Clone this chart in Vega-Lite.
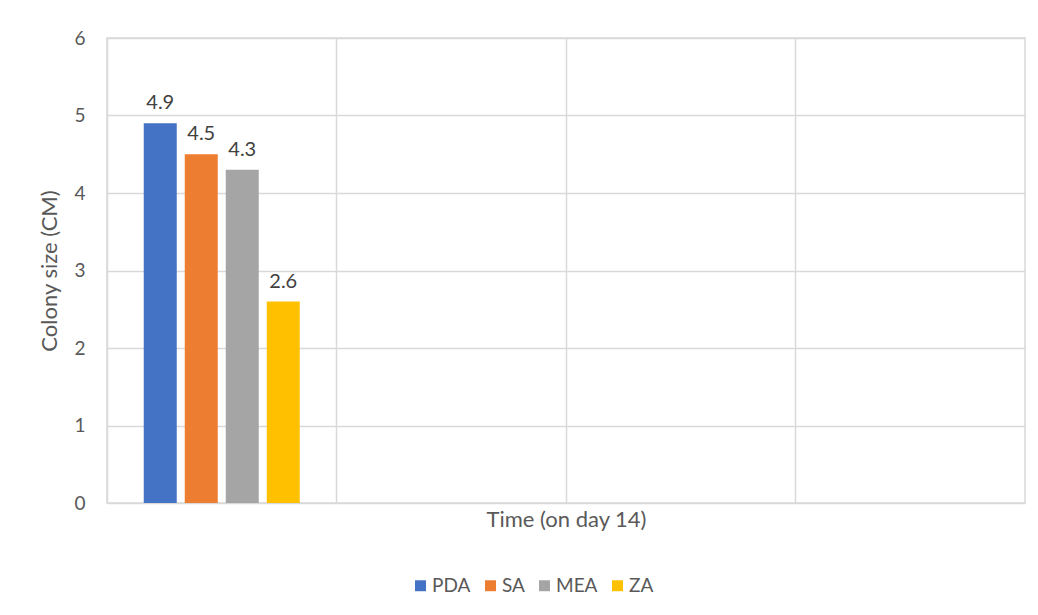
{
  "$schema": "https://vega.github.io/schema/vega-lite/v6.json",
  "width": 918,
  "height": 465,
  "autosize": {"type": "none"},
  "padding": {"left": 107, "top": 38, "right": 13, "bottom": 112},
  "background": "white",
  "config": {
    "font": "Lato",
    "view": {"stroke": "#d9d9d9", "strokeWidth": 1.5},
    "axis": {"labelColor": "#595959", "titleColor": "#595959", "gridColor": "#d9d9d9", "gridWidth": 1.5}
  },
  "data": {
    "values": [
      {"time": "Day 14", "medium": "PDA", "size": 4.9},
      {"time": "Day 14", "medium": "SA", "size": 4.5},
      {"time": "Day 14", "medium": "MEA", "size": 4.3},
      {"time": "Day 14", "medium": "ZA", "size": 2.6}
    ]
  },
  "encoding": {
    "x": {
      "field": "time",
      "type": "nominal",
      "scale": {"domain": ["Day 14", "b", "c", "d"], "paddingInner": 0, "paddingOuter": 0},
      "axis": {
        "title": "Time (on day 14)",
        "titleFontSize": 22,
        "titleFontWeight": "normal",
        "titlePadding": 6,
        "labels": false,
        "ticks": false,
        "domain": false,
        "grid": true,
        "bandPosition": 0
      }
    },
    "xOffset": {
      "field": "medium",
      "type": "nominal",
      "scale": {"domain": ["PDA", "SA", "MEA", "ZA"], "paddingInner": 0.195, "paddingOuter": 0.896}
    },
    "y": {
      "field": "size",
      "type": "quantitative",
      "scale": {"domain": [0, 6]},
      "axis": {
        "title": "Colony size (CM)",
        "titleFontSize": 22,
        "titleFontWeight": "normal",
        "titlePadding": 12,
        "labelFontSize": 19,
        "labelPadding": 22,
        "tickCount": 6,
        "ticks": false,
        "domain": false
      }
    }
  },
  "layer": [
    {
      "mark": {"type": "bar"},
      "encoding": {
        "color": {
          "field": "medium",
          "type": "nominal",
          "scale": {"domain": ["PDA", "SA", "MEA", "ZA"], "range": ["#4472C4", "#ED7D31", "#A5A5A5", "#FFC000"]},
          "legend": {
            "title": null,
            "orient": "none",
            "direction": "horizontal",
            "legendX": 304,
            "legendY": 538,
            "symbolType": "square",
            "symbolSize": 120,
            "symbolStrokeWidth": 0,
            "labelFontSize": 19,
            "labelColor": "#595959",
            "labelOffset": 2,
            "columnPadding": 10
          }
        }
      }
    },
    {
      "mark": {"type": "text", "baseline": "bottom", "dy": -10, "fontSize": 20, "color": "#404040"},
      "encoding": {"text": {"field": "size", "type": "quantitative", "format": ".1f"}}
    }
  ]
}
